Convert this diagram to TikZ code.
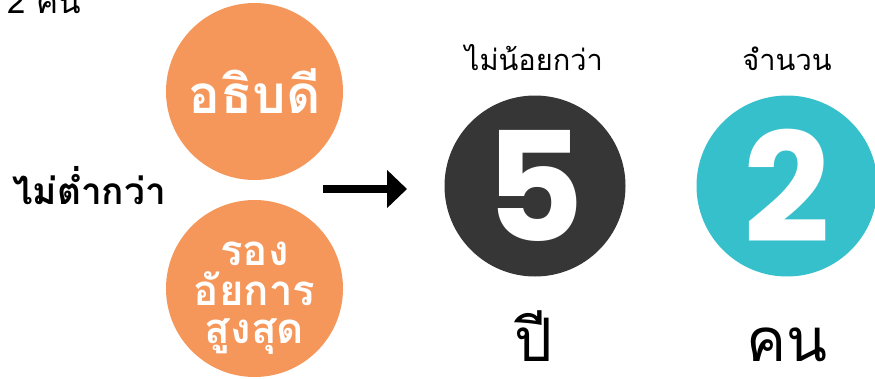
\documentclass[tikz,border=0pt]{standalone}
\usepackage{fontspec}
\setmainfont{Liberation Sans}
\newfontfamily\thai[Script=Thai]{Loma}
\newfontfamily\digitfont{Poppins}
\usetikzlibrary{arrows.meta}
\definecolor{orangeC}{HTML}{F5975A}
\definecolor{darkC}{HTML}{363636}
\definecolor{tealC}{HTML}{35C0CB}
\tikzset{
  disc/.style={circle, inner sep=0pt, minimum size=#1},
  lbl/.style={inner sep=0pt, anchor=base, font=\thai},
  wlbl/.style={inner sep=0pt, text=white, align=center, font=\thai\bfseries},
}
\begin{document}
\begin{tikzpicture}[x=1pt,y=-1pt]
\useasboundingbox (0,0) rectangle (875,378);
% top-left cut text
\node[lbl, anchor=base west, font=\thai\fontsize{33}{36}\selectfont] (topcut) at (7,13) {2 คน};
% orange circles
\node[disc=177pt, fill=orangeC] (c1) at (254.5,91.5) {};
\node[disc=177pt, fill=orangeC] (c2) at (254.5,288.5) {};
\node[wlbl, anchor=base, font=\thai\bfseries\fontsize{53}{56}\selectfont] (t1) at (254.5,113) {อธิบดี};
\node[wlbl, anchor=base, font=\thai\bfseries\fontsize{42}{44}\selectfont] (t2a) at (254.5,265) {รอง};
\node[wlbl, anchor=base, font=\thai\bfseries\fontsize{42}{44}\selectfont] (t2b) at (254.5,305) {อัยการ};
\node[wlbl, anchor=base, font=\thai\bfseries\fontsize{42}{44}\selectfont] (t2c) at (254.5,343) {สูงสุด};
% left label
\node[lbl, anchor=base, font=\thai\bfseries\fontsize{37}{40}\selectfont] (low) at (89,204) {ไม่ต่ำกว่า};
% arrow
\coordinate (arrS) at (323,189);
\coordinate (arrE) at (407,189);
\draw[line width=8pt, -{Triangle[length=20pt,width=37pt]}] (arrS) -- (arrE);
% number circles
\node[lbl, font=\thai\fontsize{29}{32}\selectfont] (h1) at (534,70) {ไม่น้อยกว่า};
\node[lbl, font=\thai\fontsize{29}{32}\selectfont] (h2) at (787,70) {จำนวน};
\node[disc=181pt, fill=darkC] (n1) at (535,186) {};
\node[disc=181pt, fill=tealC] (n2) at (787,186) {};
\node[inner sep=0pt, text=white, font=\digitfont\bfseries\fontsize{152}{152}\selectfont] (d1) at (n1) {5};
\node[inner sep=0pt, text=white, font=\digitfont\bfseries\fontsize{152}{152}\selectfont] (d2) at (n2) {2};
\node[lbl, text depth=0pt, font=\thai\fontsize{60}{64}\selectfont] (u1) at (534,361) {ปี};
\node[lbl, text depth=0pt, font=\thai\fontsize{60}{64}\selectfont] (u2) at (787,361) {คน};
\end{tikzpicture}
\end{document}
